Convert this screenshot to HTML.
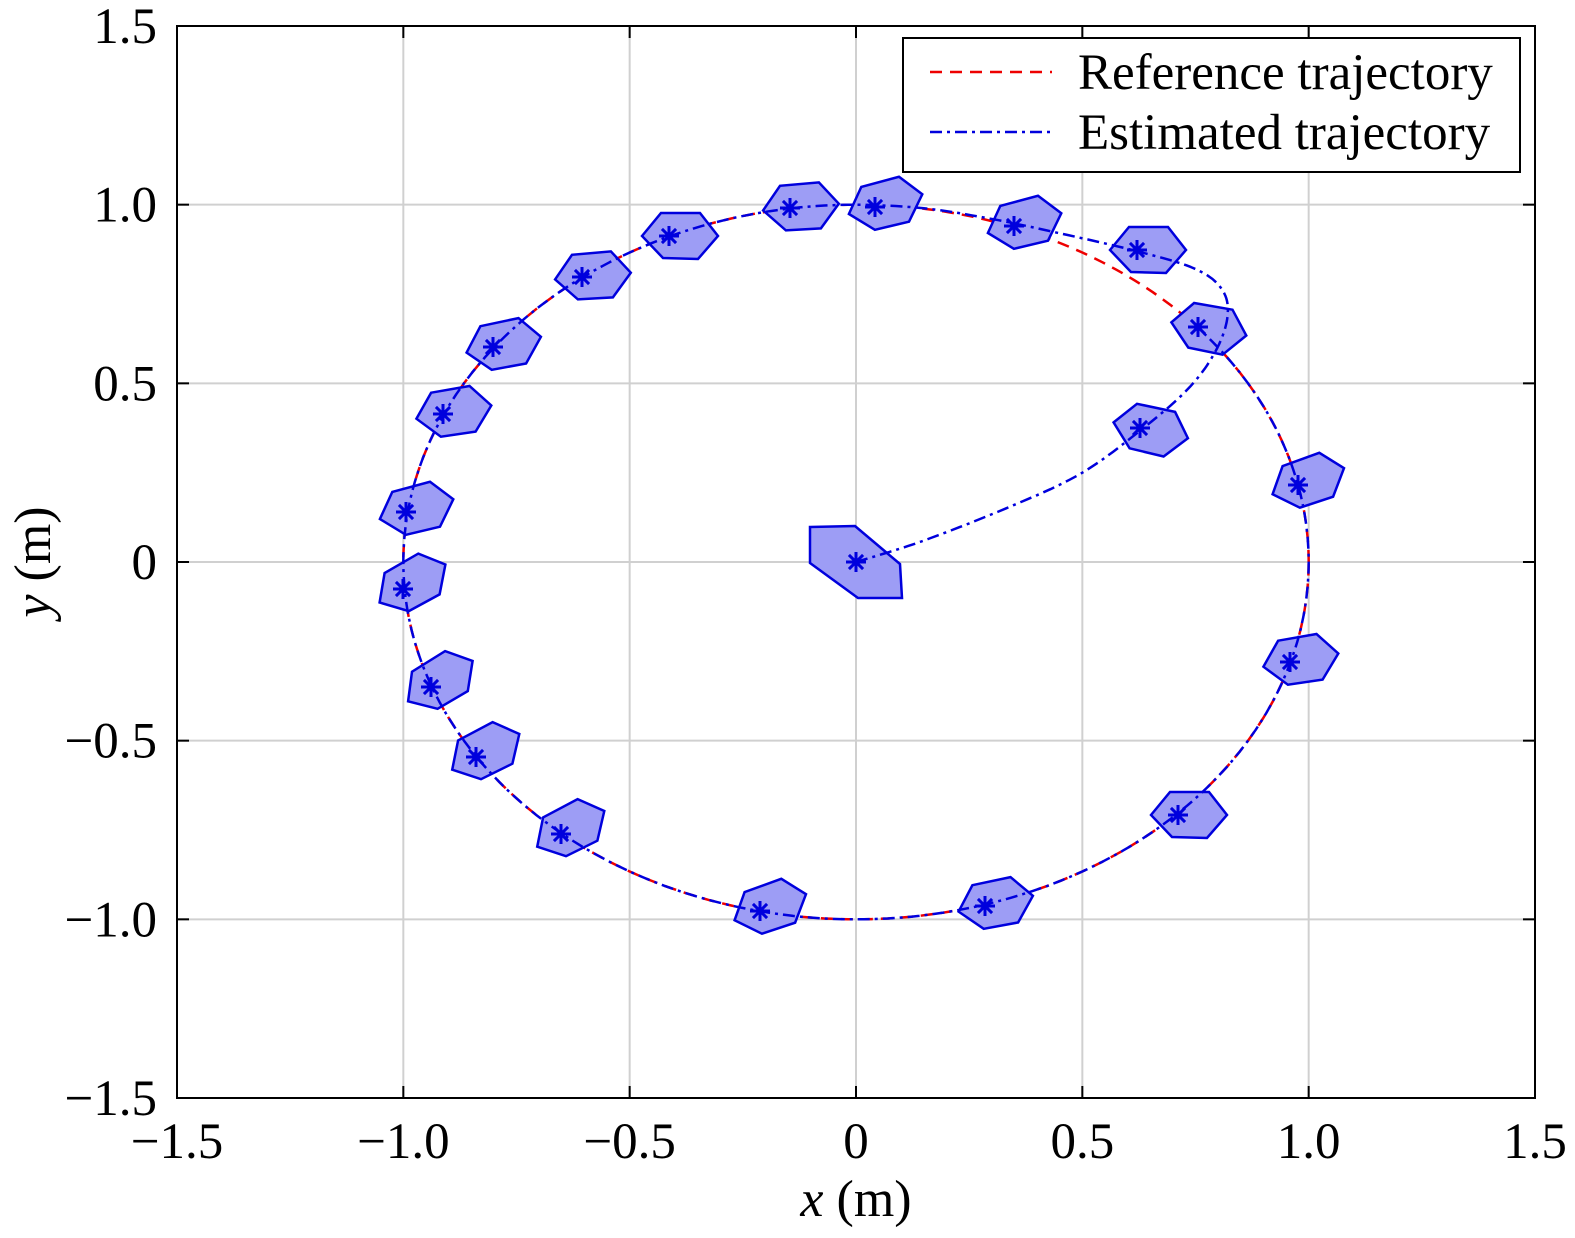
<!DOCTYPE html>
<html><head><meta charset="utf-8"><style>
html,body{margin:0;padding:0;background:#fff;}
svg{display:block;}
text{font-family:"Liberation Serif",serif;fill:#000;}
</style></head><body>
<svg id="s" width="1575" height="1238" viewBox="0 0 1575 1238" xmlns="http://www.w3.org/2000/svg">
<g id="grid" stroke="#d0d0d0" stroke-width="2"></g>
<g id="plot"></g>
<rect x="177" y="26" width="1358" height="1072" fill="none" stroke="#000" stroke-width="2"/>
<g id="ticks" stroke="#000" stroke-width="2"></g>
<g id="labels" font-size="51"></g>
<text x="856" y="1216" font-size="52" text-anchor="middle"><tspan font-style="italic">x</tspan> (m)</text>
<text transform="translate(50,562) rotate(-90)" font-size="52" text-anchor="middle"><tspan font-style="italic">y</tspan> (m)</text>
<rect x="903" y="38" width="617" height="134" fill="#fff" stroke="#000" stroke-width="2"/>
<line x1="930" y1="72" x2="1052" y2="72" stroke="#e00" stroke-width="2.5" stroke-dasharray="12,8"/>
<line x1="930" y1="132" x2="1052" y2="132" stroke="#00d" stroke-width="2.5" stroke-dasharray="12,5,3,5"/>
<text x="1078" y="89" font-size="51">Reference trajectory</text>
<text x="1078" y="149" font-size="51">Estimated trajectory</text>
</svg>
<script>
const X=x=>856+x*452.67, Y=y=>562-y*357.33;
const ns="http://www.w3.org/2000/svg";
function el(p,t,a){const e=document.createElementNS(ns,t);for(const k in a)e.setAttribute(k,a[k]);document.getElementById(p).appendChild(e);return e;}
const vals=[-1.5,-1,-0.5,0,0.5,1,1.5];
const lab=v=>v==0?"0":(v<0?"\u2212":"")+Math.abs(v).toFixed(1);
vals.forEach(v=>{
 if(v>-1.5&&v<1.5){el("grid","line",{x1:X(v),y1:26,x2:X(v),y2:1098});el("grid","line",{x1:177,y1:Y(v),x2:1535,y2:Y(v)});}
 el("ticks","line",{x1:X(v),y1:1098,x2:X(v),y2:1086});el("ticks","line",{x1:X(v),y1:26,x2:X(v),y2:38});
 el("ticks","line",{x1:177,y1:Y(v),x2:189,y2:Y(v)});el("ticks","line",{x1:1535,y1:Y(v),x2:1523,y2:Y(v)});
 el("labels","text",{x:X(v),y:1158,"text-anchor":"middle"}).textContent=lab(v);
 el("labels","text",{x:157,y:Y(v)+17,"text-anchor":"end"}).textContent=lab(v);
});
let d="";for(let i=0;i<=360;i++){const a=i*Math.PI/180;d+=(i?"L":"M")+X(Math.cos(a)).toFixed(1)+","+Y(Math.sin(a)).toFixed(1);}
el("plot","path",{d:d,fill:"none",stroke:"#e00","stroke-width":2.5,"stroke-dasharray":"12,8"});
const C=[[1137,250,0],[1198,327,10],[1140,428,12],[1298,485,-20],[1290,662,-10],[1178,815,0],[985,906,-12],[760,911,-20],[561,834,-28],[476,757,-28],[431,687,-32],[403,589,-30],[406,512,-15],[443,414,-10],[493,347,-12],[582,277,-5],[669,236,0],[790,208,-5],[875,207,-15],[1014,226,-15]];
const H=[[-27,0],[-8,-23],[31,-23],[49,0],[29,23],[-6,22]];
C.forEach(([cx,cy,r])=>{const a=r*Math.PI/180,c=Math.cos(a),s=Math.sin(a);
 el("plot","polygon",{points:H.map(([u,v])=>(cx+u*c-v*s).toFixed(1)+","+(cy+u*s+v*c).toFixed(1)).join(" "),fill:"#9d9df5",stroke:"#00d","stroke-width":2.5});});
el("plot","polygon",{points:"810,527 855,526 900,564 902,598 858,598 810,563",fill:"#9d9df5",stroke:"#00d","stroke-width":2.5});
const P=[[0,0],[0.15,0.06],[0.35,0.16],[0.5,0.25],[0.63,0.37],[0.73,0.48],[0.79,0.58],[0.82,0.68],[0.81,0.76],[0.75,0.82],[0.62,0.87],[0.45,0.92],[0.3,0.96],[0.15,0.99],[0,1],[-0.1,0.995]];
d="M"+X(0)+","+Y(0);
for(let i=0;i<P.length-2;i++){const p0=P[Math.max(i-1,0)],p1=P[i],p2=P[i+1],p3=P[i+2];
 for(let t=0.1;t<=1.001;t+=0.1){const t2=t*t,t3=t2*t;
  const f=k=>0.5*((2*p1[k])+(-p0[k]+p2[k])*t+(2*p0[k]-5*p1[k]+4*p2[k]-p3[k])*t2+(-p0[k]+3*p1[k]-3*p2[k]+p3[k])*t3);
  d+="L"+X(f(0)).toFixed(1)+","+Y(f(1)).toFixed(1);}}
for(let i=91;i<=400;i++){const a=i*Math.PI/180;d+="L"+X(Math.cos(a)).toFixed(1)+","+Y(Math.sin(a)).toFixed(1);}
el("plot","path",{d:d,fill:"none",stroke:"#00d","stroke-width":2.5,"stroke-dasharray":"12,5,3,5","stroke-linejoin":"round"});
C.concat([[856,562]]).forEach(([cx,cy])=>{for(let k=0;k<4;k++){const a=k*Math.PI/4;el("plot","line",{x1:cx-10*Math.cos(a),y1:cy-10*Math.sin(a),x2:cx+10*Math.cos(a),y2:cy+10*Math.sin(a),stroke:"#00d","stroke-width":3});}});
</script>
</body></html>
